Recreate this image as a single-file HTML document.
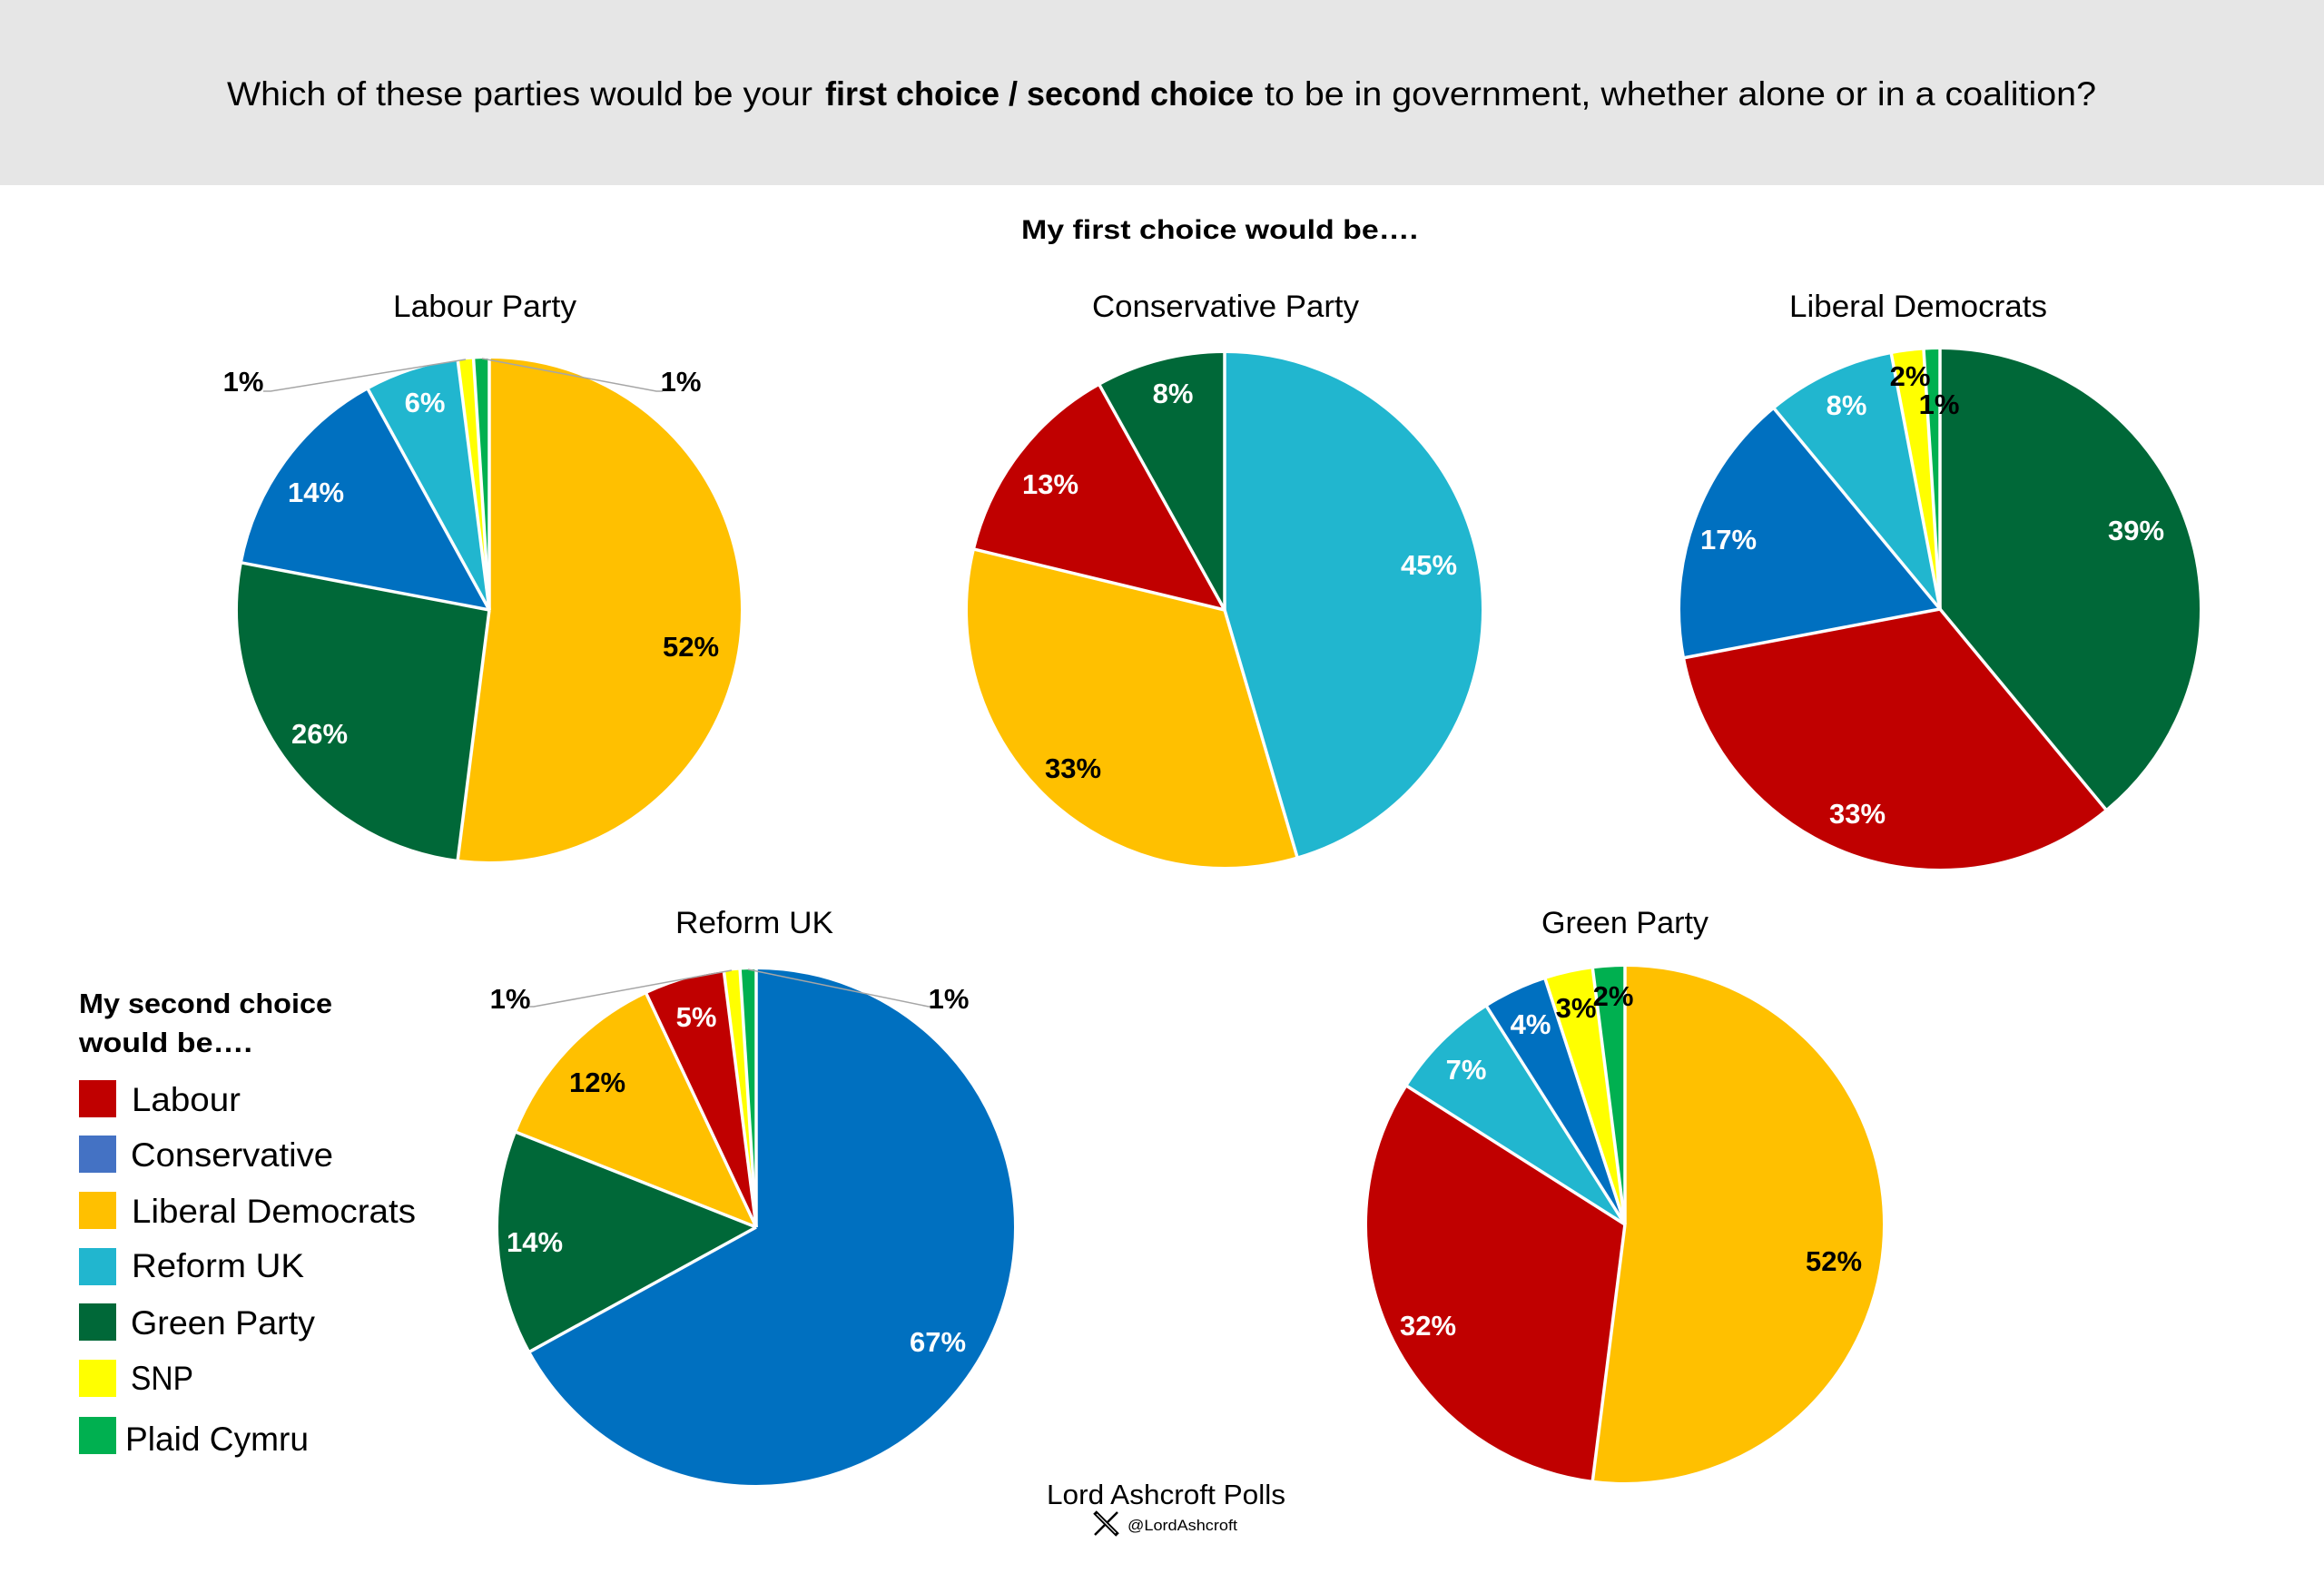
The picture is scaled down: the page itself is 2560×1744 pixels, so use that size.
<!DOCTYPE html>
<html>
<head>
<meta charset="utf-8">
<style>
html,body{margin:0;padding:0;background:#fff;}
svg{display:block;}
text{font-family:"Liberation Sans",Arial,sans-serif;}
.lbl{font-weight:bold;font-size:31px;text-anchor:middle;}
.w{fill:#fff;}
.k{fill:#000;}
</style>
</head>
<body>
<svg width="2560" height="1744" viewBox="0 0 2560 1744" xmlns="http://www.w3.org/2000/svg">
<rect x="0" y="0" width="2560" height="1744" fill="#ffffff"/>
<rect x="0" y="0" width="2560" height="204" fill="#e6e6e6"/>

<!-- Header -->
<text x="250" y="116" font-size="37" textLength="645" lengthAdjust="spacingAndGlyphs" fill="#000">Which of these parties would be your</text>
<text x="909" y="116" font-size="37" font-weight="bold" textLength="472" lengthAdjust="spacingAndGlyphs" fill="#000">first choice / second choice</text>
<text x="1393" y="116" font-size="37" textLength="916" lengthAdjust="spacingAndGlyphs" fill="#000">to be in government, whether alone or in a coalition?</text>

<text x="1125" y="263" font-size="30" font-weight="bold" textLength="437" lengthAdjust="spacingAndGlyphs" fill="#000">My first choice would be….</text>

<!-- Pie titles -->
<text x="433" y="349" font-size="34" textLength="202" lengthAdjust="spacingAndGlyphs" fill="#000">Labour Party</text>
<text x="1203" y="349" font-size="34" textLength="294" lengthAdjust="spacingAndGlyphs" fill="#000">Conservative Party</text>
<text x="1971" y="349" font-size="34" textLength="284" lengthAdjust="spacingAndGlyphs" fill="#000">Liberal Democrats</text>
<text x="744" y="1028" font-size="34" textLength="174" lengthAdjust="spacingAndGlyphs" fill="#000">Reform UK</text>
<text x="1698" y="1028" font-size="34" textLength="184" lengthAdjust="spacingAndGlyphs" fill="#000">Green Party</text>

<!-- Labour pie -->
<g transform="translate(539,672)" fill="none" stroke-width="277">
  <circle r="138.5" stroke="#FFC000" stroke-dasharray="453 2000" transform="rotate(-90)"/>
  <circle r="138.5" stroke="#006838" stroke-dasharray="226.8 2000" transform="rotate(97.2)"/>
  <circle r="138.5" stroke="#0070C0" stroke-dasharray="122.3 2000" transform="rotate(190.8)"/>
  <circle r="138.5" stroke="#21B6CF" stroke-dasharray="52.7 2000" transform="rotate(241.2)"/>
  <circle r="138.5" stroke="#FFFF00" stroke-dasharray="9.2 2000" transform="rotate(262.8)"/>
  <circle r="138.5" stroke="#00B050" stroke-dasharray="8.8 2000" transform="rotate(266.4)"/>
</g>
<g transform="translate(539,672)" stroke="#fff" stroke-width="3.5">
  <line x1="0" y1="0" x2="0" y2="-278" transform="rotate(0)"/>
  <line x1="0" y1="0" x2="0" y2="-278" transform="rotate(187.2)"/>
  <line x1="0" y1="0" x2="0" y2="-278" transform="rotate(280.8)"/>
  <line x1="0" y1="0" x2="0" y2="-278" transform="rotate(331.2)"/>
  <line x1="0" y1="0" x2="0" y2="-278" transform="rotate(352.8)"/>
  <line x1="0" y1="0" x2="0" y2="-278" transform="rotate(356.4)"/>
</g>
<polyline points="290,431 298,431 513,396" fill="none" stroke="#a6a6a6" stroke-width="1.5"/>
<polyline points="531,395 723,431 730,431" fill="none" stroke="#a6a6a6" stroke-width="1.5"/>
<text class="lbl k" x="761" y="723">52%</text>
<text class="lbl w" x="352" y="819">26%</text>
<text class="lbl w" x="348" y="553">14%</text>
<text class="lbl w" x="468" y="454">6%</text>
<text class="lbl k" x="268" y="431">1%</text>
<text class="lbl k" x="750" y="431">1%</text>

<!-- Conservative pie -->
<g transform="translate(1349,672)" fill="none" stroke-width="283">
  <circle r="141.5" stroke="#21B6CF" stroke-dasharray="404.6 2000" transform="rotate(-90)"/>
  <circle r="141.5" stroke="#FFC000" stroke-dasharray="296.9 2000" transform="rotate(73.64)"/>
  <circle r="141.5" stroke="#C00000" stroke-dasharray="117.2 2000" transform="rotate(193.64)"/>
  <circle r="141.5" stroke="#006838" stroke-dasharray="72.3 2000" transform="rotate(240.91)"/>
</g>
<g transform="translate(1349,672)" stroke="#fff" stroke-width="3.5">
  <line x1="0" y1="0" x2="0" y2="-284" transform="rotate(0)"/>
  <line x1="0" y1="0" x2="0" y2="-284" transform="rotate(163.64)"/>
  <line x1="0" y1="0" x2="0" y2="-284" transform="rotate(283.64)"/>
  <line x1="0" y1="0" x2="0" y2="-284" transform="rotate(330.91)"/>
</g>
<text class="lbl w" x="1574" y="633">45%</text>
<text class="lbl k" x="1182" y="857">33%</text>
<text class="lbl w" x="1157" y="544">13%</text>
<text class="lbl w" x="1292" y="444">8%</text>

<!-- Lib Dem pie -->
<g transform="translate(2137,671)" fill="none" stroke-width="286">
  <circle r="143" stroke="#006838" stroke-dasharray="350.9 2000" transform="rotate(-90)"/>
  <circle r="143" stroke="#C00000" stroke-dasharray="297 2000" transform="rotate(50.4)"/>
  <circle r="143" stroke="#0070C0" stroke-dasharray="153.2 2000" transform="rotate(169.2)"/>
  <circle r="143" stroke="#21B6CF" stroke-dasharray="72.4 2000" transform="rotate(230.4)"/>
  <circle r="143" stroke="#FFFF00" stroke-dasharray="18.4 2000" transform="rotate(259.2)"/>
  <circle r="143" stroke="#00B050" stroke-dasharray="9.1 2000" transform="rotate(266.4)"/>
</g>
<g transform="translate(2137,671)" stroke="#fff" stroke-width="3.5">
  <line x1="0" y1="0" x2="0" y2="-287" transform="rotate(0)"/>
  <line x1="0" y1="0" x2="0" y2="-287" transform="rotate(140.4)"/>
  <line x1="0" y1="0" x2="0" y2="-287" transform="rotate(259.2)"/>
  <line x1="0" y1="0" x2="0" y2="-287" transform="rotate(320.4)"/>
  <line x1="0" y1="0" x2="0" y2="-287" transform="rotate(349.2)"/>
  <line x1="0" y1="0" x2="0" y2="-287" transform="rotate(356.4)"/>
</g>
<text class="lbl w" x="2353" y="595">39%</text>
<text class="lbl w" x="2046" y="907">33%</text>
<text class="lbl w" x="1904" y="605">17%</text>
<text class="lbl w" x="2034" y="457">8%</text>
<text class="lbl k" x="2104" y="425">2%</text>
<text class="lbl k" x="2136" y="456">1%</text>

<!-- Reform pie -->
<g transform="translate(833,1352)" fill="none" stroke-width="284">
  <circle r="142" stroke="#0070C0" stroke-dasharray="598.2 2000" transform="rotate(-90)"/>
  <circle r="142" stroke="#006838" stroke-dasharray="125.4 2000" transform="rotate(151.2)"/>
  <circle r="142" stroke="#FFC000" stroke-dasharray="107.5 2000" transform="rotate(201.6)"/>
  <circle r="142" stroke="#C00000" stroke-dasharray="45.1 2000" transform="rotate(244.8)"/>
  <circle r="142" stroke="#FFFF00" stroke-dasharray="9.4 2000" transform="rotate(262.8)"/>
  <circle r="142" stroke="#00B050" stroke-dasharray="9 2000" transform="rotate(266.4)"/>
</g>
<g transform="translate(833,1352)" stroke="#fff" stroke-width="3.5">
  <line x1="0" y1="0" x2="0" y2="-285" transform="rotate(0)"/>
  <line x1="0" y1="0" x2="0" y2="-285" transform="rotate(241.2)"/>
  <line x1="0" y1="0" x2="0" y2="-285" transform="rotate(291.6)"/>
  <line x1="0" y1="0" x2="0" y2="-285" transform="rotate(334.8)"/>
  <line x1="0" y1="0" x2="0" y2="-285" transform="rotate(352.8)"/>
  <line x1="0" y1="0" x2="0" y2="-285" transform="rotate(356.4)"/>
</g>
<polyline points="583,1109 588,1109 806,1069" fill="none" stroke="#a6a6a6" stroke-width="1.5"/>
<polyline points="824,1068 1023,1109 1028,1109" fill="none" stroke="#a6a6a6" stroke-width="1.5"/>
<text class="lbl w" x="1033" y="1489">67%</text>
<text class="lbl w" x="589" y="1379">14%</text>
<text class="lbl k" x="658" y="1203">12%</text>
<text class="lbl w" x="767" y="1131">5%</text>
<text class="lbl k" x="562" y="1111">1%</text>
<text class="lbl k" x="1045" y="1111">1%</text>

<!-- Green pie -->
<g transform="translate(1790,1349)" fill="none" stroke-width="284">
  <circle r="142" stroke="#FFC000" stroke-dasharray="464.4 2000" transform="rotate(-90)"/>
  <circle r="142" stroke="#C00000" stroke-dasharray="286 2000" transform="rotate(97.2)"/>
  <circle r="142" stroke="#21B6CF" stroke-dasharray="62.9 2000" transform="rotate(212.4)"/>
  <circle r="142" stroke="#0070C0" stroke-dasharray="36.2 2000" transform="rotate(237.6)"/>
  <circle r="142" stroke="#FFFF00" stroke-dasharray="27.2 2000" transform="rotate(252)"/>
  <circle r="142" stroke="#00B050" stroke-dasharray="17.9 2000" transform="rotate(262.8)"/>
</g>
<g transform="translate(1790,1349)" stroke="#fff" stroke-width="3.5">
  <line x1="0" y1="0" x2="0" y2="-285" transform="rotate(0)"/>
  <line x1="0" y1="0" x2="0" y2="-285" transform="rotate(187.2)"/>
  <line x1="0" y1="0" x2="0" y2="-285" transform="rotate(302.4)"/>
  <line x1="0" y1="0" x2="0" y2="-285" transform="rotate(327.6)"/>
  <line x1="0" y1="0" x2="0" y2="-285" transform="rotate(342)"/>
  <line x1="0" y1="0" x2="0" y2="-285" transform="rotate(352.8)"/>
</g>
<text class="lbl k" x="2020" y="1400">52%</text>
<text class="lbl w" x="1573" y="1471">32%</text>
<text class="lbl w" x="1615" y="1189">7%</text>
<text class="lbl w" x="1686" y="1139">4%</text>
<text class="lbl k" x="1736" y="1121">3%</text>
<text class="lbl k" x="1777" y="1108">2%</text>

<!-- Legend -->
<text x="87" y="1116" font-size="31" font-weight="bold" textLength="279" lengthAdjust="spacingAndGlyphs" fill="#000">My second choice</text>
<text x="87" y="1159" font-size="31" font-weight="bold" textLength="191" lengthAdjust="spacingAndGlyphs" fill="#000">would be….</text>

<rect x="87" y="1190" width="41" height="41" fill="#C00000"/>
<rect x="87" y="1251" width="41" height="41" fill="#4472C4"/>
<rect x="87" y="1313" width="41" height="41" fill="#FFC000"/>
<rect x="87" y="1375" width="41" height="41" fill="#21B6CF"/>
<rect x="87" y="1436" width="41" height="41" fill="#006838"/>
<rect x="87" y="1498" width="41" height="41" fill="#FFFF00"/>
<rect x="87" y="1561" width="41" height="41" fill="#00B050"/>

<text x="145" y="1224" font-size="37" textLength="120" lengthAdjust="spacingAndGlyphs" fill="#000">Labour</text>
<text x="144" y="1285" font-size="37" textLength="223" lengthAdjust="spacingAndGlyphs" fill="#000">Conservative</text>
<text x="145" y="1347" font-size="37" textLength="313" lengthAdjust="spacingAndGlyphs" fill="#000">Liberal Democrats</text>
<text x="145" y="1407" font-size="37" textLength="190" lengthAdjust="spacingAndGlyphs" fill="#000">Reform UK</text>
<text x="144" y="1470" font-size="37" textLength="203" lengthAdjust="spacingAndGlyphs" fill="#000">Green Party</text>
<text x="144" y="1531" font-size="37" textLength="69" lengthAdjust="spacingAndGlyphs" fill="#000">SNP</text>
<text x="138" y="1598" font-size="37" textLength="202" lengthAdjust="spacingAndGlyphs" fill="#000">Plaid Cymru</text>

<!-- Footer -->
<text x="1153" y="1657" font-size="31" textLength="263" lengthAdjust="spacingAndGlyphs" fill="#000">Lord Ashcroft Polls</text>
<g stroke="#000" stroke-linecap="butt">
  <line x1="1206" y1="1666" x2="1231" y2="1691" stroke-width="5"/>
  <line x1="1231" y1="1666" x2="1206" y2="1691" stroke-width="2.5"/>
</g>
<line x1="1208" y1="1668" x2="1229" y2="1689" stroke="#fff" stroke-width="1.2"/>
<text x="1242" y="1686" font-size="17" textLength="121" lengthAdjust="spacingAndGlyphs" fill="#000">@LordAshcroft</text>
</svg>
</body>
</html>
